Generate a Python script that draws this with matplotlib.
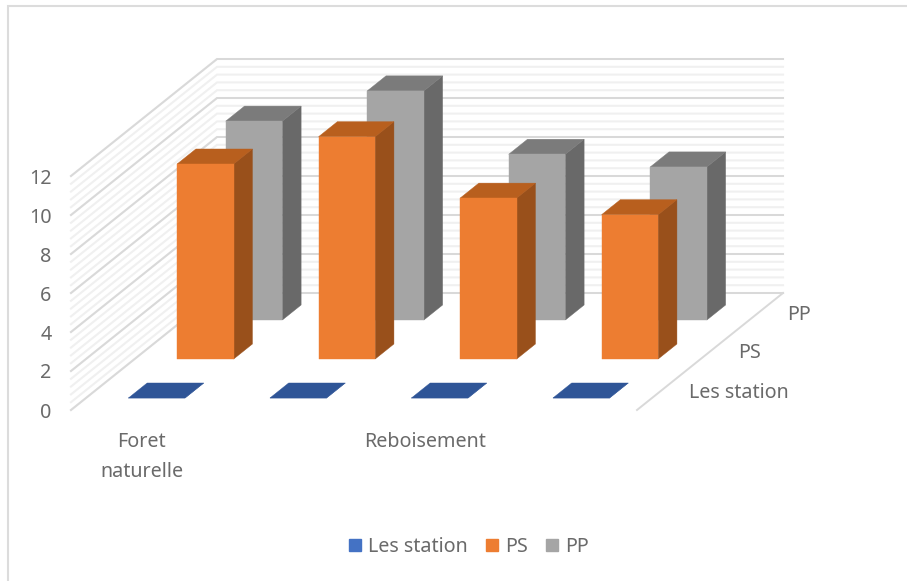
import matplotlib
matplotlib.use("Agg")
import matplotlib.pyplot as plt
import numpy as np
from matplotlib.lines import Line2D
from matplotlib.patches import Polygon, Patch

plt.rcParams['font.family'] = ['Noto Sans', 'DejaVu Sans']

# Chart values
categories = ["Foret\nnaturelle", "", "Reboisement", ""]
series_names = ["Les station", "PS", "PP"]
les_station = [0, 0, 0, 0]
ps = [10.0, 11.4, 8.25, 7.4]
pp = [10.2, 11.75, 8.5, 7.85]

W, H = 907, 581
TEXT = "#6a6a6a"
FONT = 14.2
KX = 0.344      # horizontal shift per depth slot, in category units
KV = 2.0        # vertical shift per depth slot, in value units
BAR_W = 0.40
BAR_D = 0.385


def oblique(x, v, z):
    """Map category position, value and depth slot to axes data coordinates."""
    return (x + z * KX, v + z * KV)


fig = plt.figure(figsize=(W / 100, H / 100), dpi=100, facecolor="white")
ax = fig.add_axes([71 / W, (H - 410) / H, 566 / W, 234 / H])
ax.set_xlim(0, 4)
ax.set_ylim(0, 12)
ax.patch.set_visible(False)
for s in ax.spines.values():
    s.set_visible(False)

# Chart frame: only the left and top edges show
fig.add_artist(Line2D([7.5 / W, 7.5 / W, 1], [0, 1 - 5.5 / H, 1 - 5.5 / H],
                      transform=fig.transFigure, color="#dcdcdc", lw=1.5,
                      solid_joinstyle="miter"))


def gridline(level, color, lw):
    pts = [oblique(0, level, 0), oblique(0, level, 3), oblique(4, level, 3)]
    ax.plot(*zip(*pts), color=color, lw=lw, clip_on=False, zorder=1,
            solid_joinstyle="miter")


# Back and side walls: light minor lines under the major ones
for level in np.arange(0, 12.01, 0.4):
    gridline(level, "#f0f0f0", 1.5)
for level in np.arange(0, 12.01, 2):
    gridline(level, "#d9d9d9", 1.4)

# Floor edge on the right
ax.plot(*zip(oblique(4, 0, 0), oblique(4, 0, 3)), color="#d9d9d9", lw=1.4,
        clip_on=False, zorder=1)


def bar3d(cat, value, slot, front, top, side, z):
    x0 = cat + 0.5 - BAR_W / 2
    x1 = x0 + BAR_W
    z0 = slot + 0.5 - BAR_D / 2
    z1 = z0 + BAR_D
    faces = [
        ([(x1, 0, z0), (x1, 0, z1), (x1, value, z1), (x1, value, z0)], side),
        ([(x0, value, z0), (x1, value, z0), (x1, value, z1), (x0, value, z1)], top),
        ([(x0, 0, z0), (x1, 0, z0), (x1, value, z0), (x0, value, z0)], front),
    ]
    for corners, color in faces:
        ax.add_patch(Polygon([oblique(*c) for c in corners], closed=True,
                             facecolor=color, edgecolor=color, linewidth=0.3,
                             clip_on=False, zorder=z))


# Rear series first so the nearer bars cover it
for i, v in enumerate(pp):
    bar3d(i, v, 2, "#a5a5a5", "#7b7b7b", "#696969", 3 + i * 0.01)
for i, v in enumerate(ps):
    bar3d(i, v, 1, "#ed7d31", "#b85f1e", "#99501b", 4 + i * 0.01)
for i, v in enumerate(les_station):
    bar3d(i, v, 0, "#2f5597", "#2f5597", "#2f5597", 5 + i * 0.01)

# Value and category axes
ax.set_yticks(np.arange(0, 13, 2))
ax.set_xticks(np.arange(len(categories)) + 0.5)
ax.set_xticklabels(categories, linespacing=1.65)
ax.tick_params(axis="both", length=0, labelcolor=TEXT, labelsize=FONT)
ax.tick_params(axis="y", pad=14)
ax.tick_params(axis="x", pad=16)

# Depth axis labels
for slot, name in enumerate(series_names):
    ax.annotate(name, oblique(4, 0, slot + 0.5), xytext=(28, -2),
                textcoords="offset pixels", ha="left", va="center",
                color=TEXT, fontsize=FONT, annotation_clip=False)

handles = [Patch(color="#4472c4"), Patch(color="#ed7d31"), Patch(color="#a5a5a5")]
fig.legend(handles, series_names, loc="center", bbox_to_anchor=(469 / W, 1 - 547 / H),
           ncol=3, frameon=False, fontsize=FONT, labelcolor=TEXT,
           handlelength=0.6, handleheight=0.6, handletextpad=0.35, columnspacing=0.95)

fig.savefig("out.png", dpi=100)
